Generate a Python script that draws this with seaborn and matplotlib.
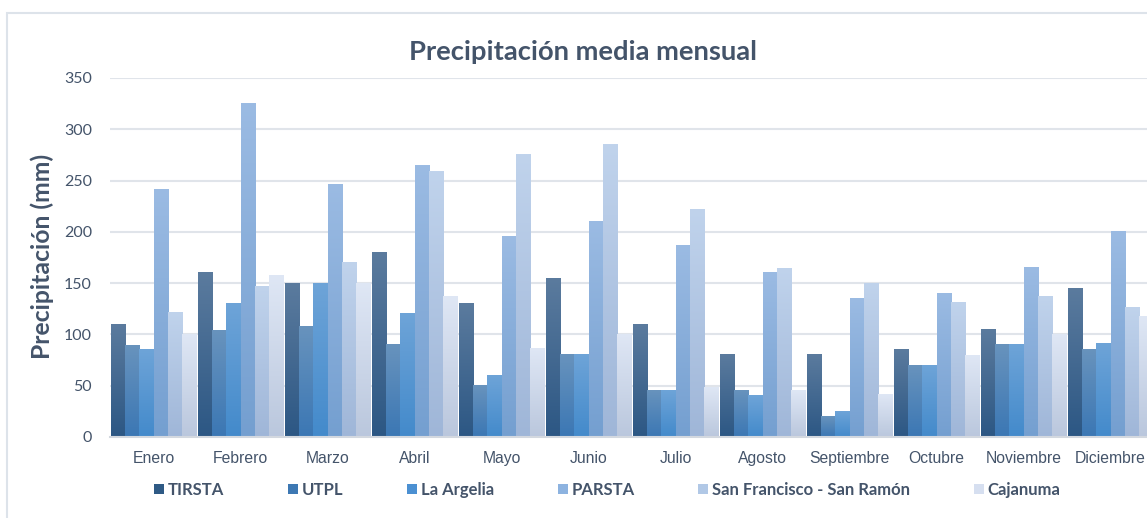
import numpy as np
import pandas as pd
import matplotlib
matplotlib.use("Agg")
import matplotlib.pyplot as plt
from matplotlib.colors import LinearSegmentedColormap, to_hex
from matplotlib.patches import Patch, Rectangle
import seaborn as sns

meses = ["Enero", "Febrero", "Marzo", "Abril", "Mayo", "Junio", "Julio",
         "Agosto", "Septiembre", "Octubre", "Noviembre", "Diciembre"]
estaciones = ["TIRSTA", "UTPL", "La Argelia", "PARSTA",
              "San Francisco - San Ramón", "Cajanuma"]

tirsta = [110, 160, 150, 180, 130, 155, 110, 80, 80, 85, 105, 145]
utpl = [89, 104, 108, 90, 50, 80, 45, 45, 20, 70, 90, 85]
la_argelia = [85, 130, 150, 120, 60, 80, 45, 40, 25, 70, 90, 91]
parsta = [241, 325, 246, 265, 195, 210, 187, 160, 135, 140, 165, 200]
san_francisco = [121, 147, 170, 259, 275, 285, 222, 164, 150, 131, 137, 126]
cajanuma = [100, 157, 150, 137, 86, 100, 48, 45, 41, 79, 100, 117]

# colores: (arriba, abajo) del degradado y color plano para la leyenda
grad_top = ["#5b7b9e", "#6893bd", "#6ea4d8", "#9bbbe3", "#c0d3ec", "#dfe7f5"]
grad_bot = ["#2c5784", "#3b77b4", "#438acb", "#749fd0", "#9fb6d8", "#bac7dd"]
leyenda = ["#2f5a85", "#3d78b3", "#4b90d2", "#8db3e0", "#b1c8e6", "#d6dff0"]

series = [tirsta, utpl, la_argelia, parsta, san_francisco, cajanuma]
df = pd.DataFrame({
    "mes": meses * len(estaciones),
    "estacion": np.repeat(estaciones, len(meses)),
    "valor": np.concatenate(series),
})

text_col = "#44546a"
W, H = 1147, 518
fig = plt.figure(figsize=(W / 100, H / 100), dpi=100)
ax = fig.add_axes([110 / W, 81 / H, 1044 / W, 359 / H])

sns.barplot(data=df, x="mes", y="valor", hue="estacion", order=meses,
            hue_order=estaciones, palette=leyenda, saturation=1, width=0.98,
            gap=0, legend=False, ax=ax)

# degradado vertical en cada barra
lut = {to_hex(c): i for i, c in enumerate(leyenda)}
grad = np.linspace(0, 1, 256).reshape(-1, 1)
for p in list(ax.patches):
    idx = lut.get(to_hex(p.get_facecolor()))
    if idx is None:
        continue
    cmap = LinearSegmentedColormap.from_list("g", [grad_bot[idx], grad_top[idx]])
    x0, w, h = p.get_x(), p.get_width(), p.get_height()
    ax.imshow(grad, extent=[x0, x0 + w, 0, h], origin="lower", aspect="auto",
              cmap=cmap, zorder=2, interpolation="bilinear")
    p.set_visible(False)

ax.set_xlim(-0.5, 11.5)
ax.set_ylim(0, 350)
ax.set_yticks(range(0, 351, 50))
ax.set_xlabel("")
ax.set_ylabel("")
ax.set_axisbelow(True)
ax.yaxis.grid(True, color="#e0e4ea", lw=1.5)
for s in ["top", "right", "left"]:
    ax.spines[s].set_visible(False)
ax.spines["bottom"].set_color("#d3d8df")
ax.spines["bottom"].set_linewidth(1.5)
ax.spines["bottom"].set_zorder(3)
ax.tick_params(axis="both", length=0)
ax.tick_params(axis="y", pad=13, labelsize=11.5, labelcolor=text_col)
ax.tick_params(axis="x", pad=10, labelsize=11.3, labelcolor=text_col)
for t in ax.get_yticklabels():
    t.set_fontfamily("Lato")
for t in ax.get_xticklabels():
    t.set_fontfamily("Liberation Sans")

fig.text(583 / W, 1 - 52 / H, "Precipitación media mensual", ha="center",
         va="center", fontsize=19.7, fontweight="bold", color=text_col,
         family="Lato")
fig.text(42 / W, 1 - 256 / H, "Precipitación (mm)", ha="center", va="center",
         rotation=90, fontsize=17.8, fontweight="bold", color=text_col,
         family="Lato")

handles = [Patch(facecolor=c, edgecolor="none") for c in leyenda]
fig.legend(handles, estaciones, ncol=6, loc="center left",
           bbox_to_anchor=(154 / W, 1 - 490 / H), frameon=False,
           borderpad=0, borderaxespad=0, handlelength=0.6, handleheight=0.6,
           handletextpad=0.25, columnspacing=3.8,
           prop={"family": "Lato", "weight": "bold", "size": 12.0},
           labelcolor=text_col)

fig.add_artist(Rectangle((7.5 / W, -0.1), 2, 0.1 + (H - 13.5) / H,
                         transform=fig.transFigure, fill=False,
                         edgecolor="#dde3ea", lw=1.5))

fig.savefig("out.png", dpi=100)
